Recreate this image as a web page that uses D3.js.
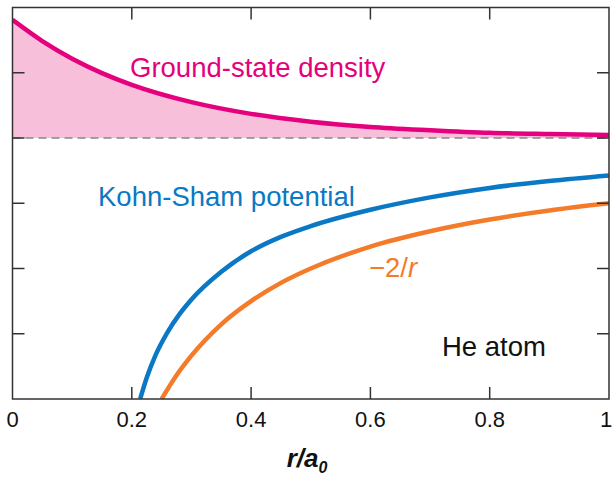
<!DOCTYPE html>
<html>
<head>
<meta charset="utf-8">
<script src="https://cdn.jsdelivr.net/npm/d3@7"></script>
<style>
  body { margin: 0; background: #fff; }
  text { font-family: "Liberation Sans", Arial, Helvetica, sans-serif; }
</style>
</head>
<body>
<div id="chart"></div>
<script>
// values (r in Bohr radii, y in plot units)
const densityR = [0, 0.05, 0.1, 0.15, 0.2, 0.3, 0.4, 0.5, 0.6, 0.7, 0.8, 0.9, 1.0]
const densityValues = [3.62, 2.97, 2.43, 1.99, 1.63, 1.10, 0.74, 0.50, 0.34, 0.24, 0.16, 0.12, 0.09]

const ksR = [0.214, 0.225, 0.24, 0.26, 0.28, 0.3, 0.35, 0.4, 0.45, 0.5, 0.6, 0.7, 0.8, 0.9, 1.0]
const ksValues = [-8, -7.35, -6.65, -5.95, -5.4, -4.95, -4.1, -3.47, -3.03, -2.7, -2.2, -1.82, -1.53, -1.32, -1.15]

const coulombR = [0.25, 0.275, 0.3, 0.35, 0.4, 0.45, 0.5, 0.6, 0.7, 0.8, 0.9, 1.0]
const coulombValues = [-8, -7.27, -6.67, -5.71, -5.0, -4.44, -4.0, -3.33, -2.86, -2.5, -2.22, -2.0]

const xTicks = [0, 0.2, 0.4, 0.6, 0.8, 1]
const xTickLabels = ['0', '0.2', '0.4', '0.6', '0.8', '1']
const yTicks = [2, 0, -2, -4, -6]

let width = 613
let height = 480
let plotLeft = 12.5, plotRight = 609, plotTop = 7.5, plotBottom = 399

const pink = '#e5007e'
const pinkFill = '#f7bfd9'
const blue = '#0a78c4'
const orange = '#f47b2a'
const axisColor = '#333'

const svg = d3.select('#chart')
  .append('svg')
  .attr('width', width)
  .attr('height', height)

let xScale = d3.scaleLinear()
  .domain([0, 1])
  .range([plotLeft, plotRight])

let yScale = d3.scaleLinear()
  .domain([-8, 4])
  .range([plotBottom, plotTop])

svg.append('defs').append('clipPath')
  .attr('id', 'plotClip')
  .append('rect')
  .attr('x', plotLeft)
  .attr('y', plotTop)
  .attr('width', plotRight - plotLeft)
  .attr('height', plotBottom - plotTop)

const plot = svg.append('g').attr('clip-path', 'url(#plotClip)')

let density = densityR.map((r, i) => ({r: r, v: densityValues[i]}))
let ks = ksR.map((r, i) => ({r: r, v: ksValues[i]}))
let coulomb = coulombR.map((r, i) => ({r: r, v: coulombValues[i]}))

let area = d3.area()
  .curve(d3.curveMonotoneX)
  .x(d => xScale(d.r))
  .y0(yScale(0))
  .y1(d => yScale(d.v))

let line = d3.line()
  .curve(d3.curveMonotoneX)
  .x(d => xScale(d.r))
  .y(d => yScale(d.v))

plot.append('path')
  .datum(density)
  .attr('d', area)
  .attr('fill', pinkFill)

// zero line of the density
plot.append('line')
  .attr('x1', plotLeft)
  .attr('x2', plotRight)
  .attr('y1', yScale(0))
  .attr('y2', yScale(0))
  .attr('stroke', '#888')
  .attr('stroke-width', 1.6)
  .attr('stroke-dasharray', '8,5')

plot.append('path')
  .datum(density)
  .attr('d', line)
  .attr('fill', 'none')
  .attr('stroke', pink)
  .attr('stroke-width', 4.5)

plot.append('path')
  .datum(ks)
  .attr('d', line)
  .attr('fill', 'none')
  .attr('stroke', blue)
  .attr('stroke-width', 4.5)

plot.append('path')
  .datum(coulomb)
  .attr('d', line)
  .attr('fill', 'none')
  .attr('stroke', orange)
  .attr('stroke-width', 4.5)

// frame with inward ticks on all four sides
let tickLen = 12
let axes = svg.append('g')
  .attr('stroke', axisColor)
  .attr('stroke-width', 1.5)
  .attr('fill', 'none')

axes.append('rect')
  .attr('x', plotLeft)
  .attr('y', plotTop)
  .attr('width', plotRight - plotLeft)
  .attr('height', plotBottom - plotTop)

xTicks.slice(1, -1).forEach(function(t){
  let x = xScale(t)
  axes.append('line').attr('x1', x).attr('x2', x).attr('y1', plotBottom).attr('y2', plotBottom - tickLen)
  axes.append('line').attr('x1', x).attr('x2', x).attr('y1', plotTop).attr('y2', plotTop + tickLen)
})

yTicks.forEach(function(t){
  let y = yScale(t)
  axes.append('line').attr('x1', plotLeft).attr('x2', plotLeft + tickLen).attr('y1', y).attr('y2', y)
  axes.append('line').attr('x1', plotRight).attr('x2', plotRight - tickLen).attr('y1', y).attr('y2', y)
})

svg.append('g')
  .selectAll('text')
  .data(xTicks)
  .join('text')
  .attr('x', d => Math.min(xScale(d), width - 7))
  .attr('y', 427)
  .attr('text-anchor', 'middle')
  .attr('font-size', 22)
  .attr('fill', '#111')
  .text((d, i) => xTickLabels[i])

// axis title r/a0
let title = svg.append('text')
  .attr('x', 307)
  .attr('y', 467)
  .attr('text-anchor', 'middle')
  .attr('font-size', 26)
  .attr('font-weight', 'bold')
  .attr('font-style', 'italic')
  .attr('fill', '#111')
title.append('tspan').text('r/a')
title.append('tspan').attr('font-size', 16).attr('dy', 6).text('0')

// curve labels
let labelSize = 27.5

svg.append('text')
  .attr('x', 130)
  .attr('y', 77)
  .attr('font-size', labelSize)
  .attr('fill', pink)
  .text('Ground-state density')

svg.append('text')
  .attr('x', 98)
  .attr('y', 206)
  .attr('font-size', labelSize)
  .attr('fill', blue)
  .text('Kohn-Sham potential')

let cl = svg.append('text')
  .attr('x', 369)
  .attr('y', 277)
  .attr('font-size', labelSize)
  .attr('fill', orange)
cl.append('tspan').text('\u22122/')
cl.append('tspan').attr('font-style', 'italic').text('r')

svg.append('text')
  .attr('x', 442)
  .attr('y', 356)
  .attr('font-size', labelSize)
  .attr('fill', '#111')
  .text('He atom')
</script>
</body>
</html>
